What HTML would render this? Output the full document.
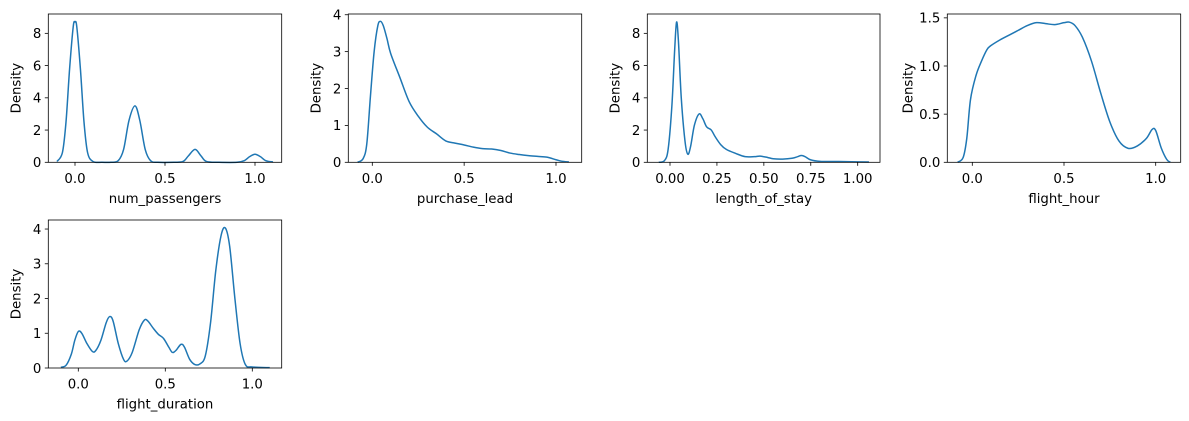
<!DOCTYPE html>
<html><head><meta charset="utf-8">
<style>
html,body{margin:0;padding:0;background:#fff;}
svg{display:block;font-family:"DejaVu Sans","Liberation Sans",sans-serif;}
</style></head>
<body>
<svg id="fig" width="1189" height="421" viewBox="0 0 1189 421" xmlns="http://www.w3.org/2000/svg"></svg>
<script>
const panelNames = ["num_passengers","purchase_lead","length_of_stay","flight_hour","flight_duration"];
const xNumPassengers = [-0.1,-0.07,-0.05,-0.03,-0.01,0,0.01,0.03,0.05,0.07,0.1,0.15,0.2,0.24,0.27,0.3,0.333,0.36,0.39,0.42,0.46,0.55,0.6,0.63,0.667,0.7,0.73,0.8,0.9,0.94,0.97,1.0,1.03,1.06,1.1];
const yNumPassengers = [0.05,0.6,2.5,5.8,8.4,8.7,8.4,5.8,2.5,0.6,0.05,0,0,0.1,0.8,2.6,3.5,2.6,0.8,0.1,0,0,0.05,0.4,0.8,0.4,0.05,0,0,0.1,0.35,0.5,0.35,0.1,0.02];
const xPurchaseLead = [-0.08,-0.05,-0.03,-0.01,0.01,0.03,0.045,0.06,0.08,0.1,0.15,0.2,0.25,0.3,0.35,0.4,0.45,0.5,0.55,0.6,0.65,0.7,0.75,0.8,0.85,0.9,0.95,1.0,1.03,1.07];
const yPurchaseLead = [0,0.1,0.5,1.8,3.0,3.7,3.82,3.7,3.35,2.95,2.3,1.65,1.25,0.95,0.77,0.58,0.52,0.47,0.41,0.37,0.36,0.32,0.25,0.21,0.18,0.16,0.14,0.07,0.03,0.01];
const xLengthOfStay = [-0.06,-0.03,-0.01,0.01,0.025,0.035,0.045,0.06,0.08,0.095,0.11,0.13,0.155,0.175,0.195,0.22,0.24,0.27,0.3,0.35,0.4,0.45,0.48,0.52,0.55,0.6,0.65,0.68,0.7,0.72,0.75,0.8,0.9,1.0,1.06];
const yLengthOfStay = [0,0.1,0.8,3.5,7.0,8.7,7.5,4,1.3,0.5,1.0,2.3,3.0,2.7,2.2,2.0,1.6,1.1,0.8,0.55,0.35,0.35,0.38,0.3,0.22,0.2,0.25,0.35,0.42,0.35,0.15,0.06,0.05,0.03,0.02];
const xFlightHour = [-0.08,-0.05,-0.03,-0.01,0.02,0.05,0.08,0.1,0.15,0.2,0.25,0.3,0.35,0.4,0.45,0.5,0.53,0.56,0.6,0.65,0.7,0.75,0.8,0.85,0.9,0.95,0.98,1.0,1.03,1.06,1.08];
const yFlightHour = [0,0.05,0.25,0.65,0.9,1.05,1.17,1.21,1.27,1.32,1.37,1.42,1.45,1.44,1.43,1.45,1.455,1.42,1.3,1.05,0.72,0.42,0.22,0.145,0.17,0.25,0.34,0.33,0.15,0.03,0];
const xFlightDuration = [-0.1,-0.07,-0.04,-0.02,0.0,0.02,0.05,0.08,0.1,0.13,0.16,0.18,0.2,0.23,0.26,0.28,0.31,0.35,0.38,0.4,0.43,0.46,0.49,0.52,0.54,0.56,0.59,0.61,0.64,0.67,0.7,0.73,0.76,0.79,0.82,0.845,0.87,0.9,0.93,0.96,1.0,1.1];
const yFlightDuration = [0.02,0.08,0.4,0.8,1.05,1.0,0.7,0.48,0.5,0.8,1.3,1.48,1.35,0.7,0.25,0.2,0.45,1.1,1.38,1.35,1.15,0.97,0.85,0.6,0.45,0.5,0.68,0.6,0.25,0.1,0.12,0.35,1.3,2.8,3.8,4.03,3.5,2.0,0.7,0.1,0.03,0.01];
const xTicks = [[0,0.5,1.0],[0,0.5,1.0],[0,0.25,0.5,0.75,1.0],[0,0.5,1.0],[0,0.5,1.0]];
const xTickLabels = [["0.0","0.5","1.0"],["0.0","0.5","1.0"],["0.00","0.25","0.50","0.75","1.00"],["0.0","0.5","1.0"],["0.0","0.5","1.0"]];
const yTicks = [[0,2,4,6,8],[0,1,2,3,4],[0,2,4,6,8],[0,0.5,1.0,1.5],[0,1,2,3,4]];
const yTickLabels = [["0","2","4","6","8"],["0","1","2","3","4"],["0","2","4","6","8"],["0.0","0.5","1.0","1.5"],["0","1","2","3","4"]];

const xs=[xNumPassengers,xPurchaseLead,xLengthOfStay,xFlightHour,xFlightDuration];
const ys=[yNumPassengers,yPurchaseLead,yLengthOfStay,yFlightHour,yFlightDuration];
// layout: box + domain mapping
const layout=[
 {l:48.3,r:281.7,t:14,b:162.3,x0:0,x0p:75,x1p:255,ymax:9.2},
 {l:348.3,r:581.7,t:14,b:162.3,x0:0,x0p:372.3,x1p:556,ymax:4.02},
 {l:647.3,r:880,t:14,b:162.3,x0:0,x0p:670,x1p:857.7,ymax:9.2},
 {l:947.3,r:1180.7,t:14,b:162.3,x0:0,x0p:972.3,x1p:1155.7,ymax:1.54},
 {l:48.3,r:281.7,t:220,b:368,x0:0,x0p:78.3,x1p:252.3,ymax:4.26}
];
const NS="http://www.w3.org/2000/svg";
const svg=document.getElementById('fig');
function mk(tag,attrs,parent){const e=document.createElementNS(NS,tag);for(const k in attrs)e.setAttribute(k,attrs[k]);(parent||svg).appendChild(e);return e;}
function smooth(pts){let d="M"+pts[0][0].toFixed(2)+","+pts[0][1].toFixed(2);
 for(let i=0;i<pts.length-1;i++){const p0=pts[i-1]||pts[i],p1=pts[i],p2=pts[i+1],p3=pts[i+2]||p2;
  const c1=[p1[0]+(p2[0]-p0[0])/6,p1[1]+(p2[1]-p0[1])/6],c2=[p2[0]-(p3[0]-p1[0])/6,p2[1]-(p3[1]-p1[1])/6];
  d+="C"+c1[0].toFixed(2)+","+c1[1].toFixed(2)+" "+c2[0].toFixed(2)+","+c2[1].toFixed(2)+" "+p2[0].toFixed(2)+","+p2[1].toFixed(2);}
 return d;}
layout.forEach((L,i)=>{
 const g=mk('g',{});
 
 
 const sx=v=>L.x0p+(v)*(L.x1p-L.x0p);
 const sy=v=>L.b-v/L.ymax*(L.b-L.t);
 const pts=xs[i].map((x,j)=>[sx(x),sy(ys[i][j])]);
 const path=mk('path',{d:smooth(pts),fill:'none',stroke:'#1f77b4','stroke-width':1.5,'stroke-linejoin':'round'},g);
 
 
 const frame=mk('rect',{x:L.l,y:L.t,width:L.r-L.l,height:L.b-L.t,fill:'none',stroke:'#000','stroke-width':0.8},g);
 
 
 xTicks[i].forEach((t,k)=>{const x=sx(t);
  mk('line',{x1:x,x2:x,y1:L.b,y2:L.b+3.5,stroke:'#000','stroke-width':0.8},g);
  const tx=mk('text',{x:x,y:L.b+20.5,'text-anchor':'middle','font-size':13.3,fill:'#000'},g);
  tx.textContent=xTickLabels[i][k];
  
  });
 yTicks[i].forEach((t,k)=>{const y=sy(t);
  mk('line',{x1:L.l-3.5,x2:L.l,y1:y,y2:y,stroke:'#000','stroke-width':0.8},g);
  const tx=mk('text',{x:L.l-7,y:y+4.8,'text-anchor':'end','font-size':13.3,fill:'#000'},g);
  tx.textContent=yTickLabels[i][k];
  
  });
 const xl=mk('text',{x:(L.l+L.r)/2,y:L.b+40.5,'text-anchor':'middle','font-size':13.3,fill:'#000'},g);
 xl.textContent=panelNames[i];
 
 
 const yoff=(i===3)?31:24;
 const ylx=L.l-yoff-4, yly=(L.t+L.b)/2;
 const yl=mk('text',{x:ylx,y:yly,'text-anchor':'middle','font-size':13.3,fill:'#000',transform:'rotate(-90 '+ylx+' '+yly+')'},g);
 yl.textContent='Density';
 
 
});
</script>
</body></html>
